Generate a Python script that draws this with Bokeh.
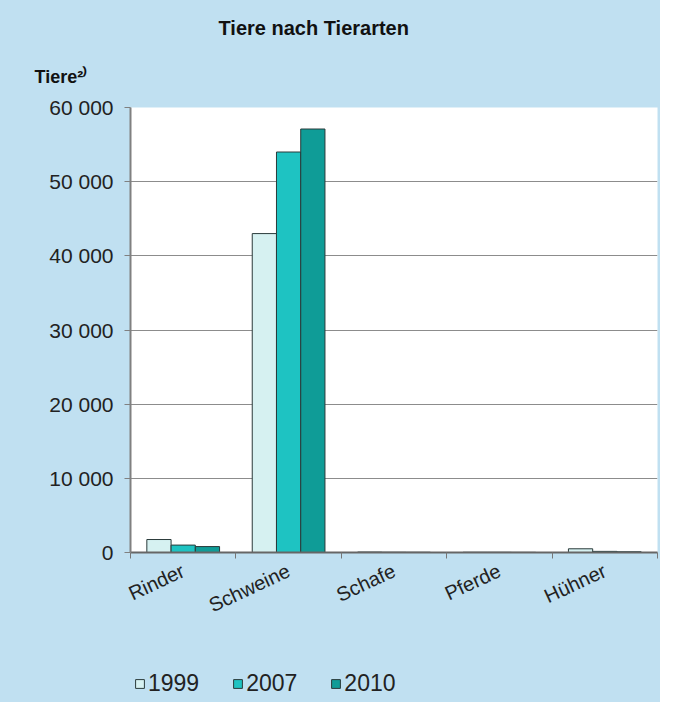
from bokeh.plotting import figure
from bokeh.layouts import column
from bokeh.models import (FixedTicker, Legend, LegendItem, Title, ColumnDataSource, Range1d)
from bokeh.embed import file_html
from bokeh.resources import INLINE
import math

categories = ["Rinder", "Schweine", "Schafe", "Pferde", "Hühner"]
years = ["1999", "2007", "2010"]
v1999 = [1750, 43000, 60, 30, 500]
v2007 = [1000, 54000, 40, 30, 150]
v2010 = [800, 57100, 30, 20, 100]
y_ticks = [0, 10000, 20000, 30000, 40000, 50000, 60000]
y_tick_labels = ["0", "10 000", "20 000", "30 000", "40 000", "50 000", "60 000"]

colors = ["#d6f1f1", "#1ec3c2", "#0f9c97"]
BG = "#c0e0f1"
FONT = "Liberation Sans"

p = figure(frame_width=527, frame_height=445, output_backend="svg", toolbar_location=None,
           x_range=Range1d(0, 5), y_range=Range1d(0, 60000),
           min_border_left=130, min_border_right=3, min_border_top=107, min_border_bottom=100)
p.background_fill_color = "white"
p.border_fill_color = BG
p.outline_line_color = None

centers = [i + 0.5 for i in range(len(categories))]
offsets = [-0.23, 0.0, 0.23]
series = [v1999, v2007, v2010]
sources = []
for yr, vals, off, col in zip(years, series, offsets, colors):
    src = ColumnDataSource(dict(x=[c + off for c in centers], top=vals))
    sources.append(src)
    p.vbar(x="x", top="top", width=0.23, source=src, fill_color=col,
           line_color="#2a3a3a", line_width=1)

# y axis
p.yaxis.ticker = FixedTicker(ticks=y_ticks)
p.yaxis.major_label_overrides = {t: l for t, l in zip(y_ticks, y_tick_labels)}
p.yaxis.major_label_text_font = FONT
p.yaxis.major_label_text_font_size = "21px"
p.yaxis.major_label_text_color = "#222222"
p.yaxis.axis_line_color = "#808080"
p.yaxis.axis_line_width = 2
p.yaxis.major_tick_out = 6
p.yaxis.major_tick_in = 0
p.yaxis.major_tick_line_color = "#808080"
p.yaxis.minor_tick_line_color = None
p.yaxis.major_label_standoff = 11

# x axis
p.xaxis.ticker = FixedTicker(ticks=centers, minor_ticks=[0, 1, 2, 3, 4, 5])
p.xaxis.major_label_overrides = {c: n for c, n in zip(centers, categories)}
p.xaxis.major_label_orientation = math.radians(25)
p.xaxis.major_label_text_font = FONT
p.xaxis.major_label_text_font_size = "20px"
p.xaxis.major_label_text_color = "#222222"
p.xaxis.axis_line_color = "#666666"
p.xaxis.axis_line_width = 2
p.xaxis.major_tick_line_color = None
p.xaxis.minor_tick_out = 6
p.xaxis.minor_tick_in = 0
p.xaxis.minor_tick_line_color = "#777777"
p.xaxis.major_label_standoff = 11

p.xgrid.grid_line_color = None
p.ygrid.grid_line_color = "#8c8c8c"
p.ygrid.grid_line_width = 1

# titles
p.title.text = "Tiere nach Tierarten"
p.title.align = "left"
p.title.offset = 88
p.title.text_font = FONT
p.title.text_font_size = "20px"
p.title.text_font_style = "bold"
p.title.text_color = "#111111"
p.title.standoff = 9
p.add_layout(Title(text="Tiere²⁾", align="left", offset=-96,
                   text_font=FONT, text_font_size="18px", text_font_style="bold",
                   text_color="#111111", standoff=42), "above")

# legend strip: same series drawn far out of view, used only for the legend keys
lg = figure(width=660, height=50, output_backend="svg", toolbar_location=None,
            x_range=Range1d(0, 5), y_range=Range1d(1e7, 1e7 + 1),
            x_axis_location=None, y_axis_location=None,
            min_border_left=0, min_border_right=0, min_border_top=0, min_border_bottom=0)
lg.grid.visible = False
lg.background_fill_color = BG
lg.border_fill_color = BG
lg.outline_line_color = BG
lg.outline_line_width = 3
items = []
for yr, src, col in zip(years, sources, colors):
    r = lg.vbar(x="x", top="top", width=0.23, source=src, fill_color=col,
                line_color="#2a3a3a", line_width=1)
    items.append(LegendItem(label=yr, renderers=[r]))
legend = Legend(items=items, orientation="horizontal", location=(4, 5),
                background_fill_alpha=0, border_line_color=None,
                label_text_font=FONT, label_text_font_size="23px",
                label_text_color="#222222", glyph_width=11, glyph_height=11,
                spacing=33, label_standoff=3, margin=0, padding=0)
lg.add_layout(legend, "center")

layout = column(p, lg, spacing=0, styles={"background-color": BG})
open("out.html", "w").write(file_html(layout, INLINE))
